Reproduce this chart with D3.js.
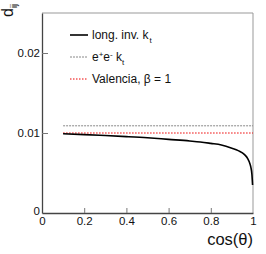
<!DOCTYPE html>
<html>
<head>
<meta charset="utf-8">
<script src="https://cdn.jsdelivr.net/npm/d3@7"></script>
<style>
  body { margin: 0; background: #fff; }
  svg { display: block; font-family: "Liberation Sans", Arial, sans-serif; }
</style>
</head>
<body>
<div id="chart"></div>
<script>
// values
const cosTheta = [0.1, 0.2, 0.3, 0.4, 0.5, 0.6, 0.7, 0.75, 0.8, 0.85, 0.9, 0.93, 0.96, 0.975, 0.985, 0.99, 0.995, 0.998];
const longInvKt = [0.0099, 0.0098, 0.00968, 0.00955, 0.0094, 0.0092, 0.009, 0.00888, 0.0087, 0.0085, 0.0081, 0.0078, 0.0073, 0.0068, 0.0062, 0.0057, 0.0048, 0.0035];
const flatX = [0.1, 1];
const eeKt = [0.0109, 0.0109];
const valencia = [0.01, 0.01];
const xTicks = [0, 0.2, 0.4, 0.6, 0.8, 1];
const yTicks = [0, 0.01, 0.02];

const width = 266, height = 254;
const margin = {left: 42, right: 13, top: 13, bottom: 41};

const svg = d3.select("#chart").append("svg")
    .attr("width", width)
    .attr("height", height);

const x = d3.scaleLinear().domain([0, 1]).range([margin.left, width - margin.right]);
const y = d3.scaleLinear().domain([0, 0.025]).range([height - margin.bottom, margin.top]);

// frame (top and right are light)
svg.append("line")
    .attr("x1", x(0)).attr("x2", x(1)).attr("y1", y(0.025)).attr("y2", y(0.025))
    .attr("stroke", "#999").attr("stroke-width", 1);
svg.append("line")
    .attr("x1", x(1)).attr("x2", x(1)).attr("y1", y(0)).attr("y2", y(0.025))
    .attr("stroke", "#999").attr("stroke-width", 1);

// axes, ticks pointing inward
const xAxis = svg.append("g")
    .attr("transform", `translate(0,${y(0)})`)
    .call(d3.axisBottom(x).tickValues(xTicks).tickSizeInner(-5).tickSizeOuter(0).tickPadding(4)
        .tickFormat(d3.format("~g")));
const yAxis = svg.append("g")
    .attr("transform", `translate(${x(0)},0)`)
    .call(d3.axisLeft(y).tickValues(yTicks).tickSizeInner(-6).tickSizeOuter(0).tickPadding(2)
        .tickFormat(d => d === 0 ? "0" : d3.format(".2f")(d)));

[xAxis, yAxis].forEach(g => {
    g.select(".domain").attr("stroke", "#444").attr("stroke-width", 1.3);
    g.selectAll(".tick line").attr("stroke", "#777");
    g.selectAll(".tick text").attr("fill", "#111").style("font-size", "11.5px")
        .style("font-family", "Liberation Sans, Arial, sans-serif");
});
xAxis.selectAll(".tick").filter(d => d === 0 || d === 1).select("line").remove();
yAxis.selectAll(".tick").filter(d => d === 0).select("line").remove();
yAxis.selectAll(".tick").filter(d => d === 0).select("text").attr("dy", "0.1em");

// curves
const line = d3.line().x(d => x(d[0])).y(d => y(d[1]));

svg.append("path")
    .datum(flatX.map((v, i) => [v, eeKt[i]]))
    .attr("d", line)
    .attr("fill", "none").attr("stroke", "#888").attr("stroke-width", 1)
    .attr("stroke-dasharray", "2,1");

svg.append("path")
    .datum(flatX.map((v, i) => [v, valencia[i]]))
    .attr("d", line)
    .attr("fill", "none").attr("stroke", "#e00").attr("stroke-width", 1)
    .attr("stroke-dasharray", "1.5,1.5");

svg.append("path")
    .datum(cosTheta.map((v, i) => [v, longInvKt[i]]))
    .attr("d", d3.line().curve(d3.curveMonotoneX).x(d => x(d[0])).y(d => y(d[1])))
    .attr("fill", "none").attr("stroke", "#000").attr("stroke-width", 1.6);

// legend
const legend = [
    {label: "long. inv. k", sub: "t", color: "#000", dash: null, w: 1.6},
    {label: "e", sub: "t", color: "#888", dash: "2,1", w: 1, ee: true},
    {label: "Valencia, \u03b2 = 1", sub: null, color: "#e00", dash: "1.5,1.5", w: 1}
];
const lg = svg.append("g").style("font-size", "12px").attr("fill", "#111");
legend.forEach((d, i) => {
    const ly = 35 + i * 22;
    lg.append("line")
        .attr("x1", 70).attr("x2", 88).attr("y1", ly).attr("y2", ly)
        .attr("stroke", d.color).attr("stroke-width", d.w)
        .attr("stroke-dasharray", d.dash);
    const t = lg.append("text").attr("x", 92).attr("y", ly + 4);
    if (d.ee) {
        t.append("tspan").text("e");
        t.append("tspan").attr("dy", -4).style("font-size", "8px").text("+");
        t.append("tspan").attr("dy", 4).text("e");
        t.append("tspan").attr("dy", -4).style("font-size", "8px").text("-");
        t.append("tspan").attr("dy", 4).text(" k");
        t.append("tspan").attr("dy", 4).style("font-size", "8px").text("t");
    } else {
        t.append("tspan").text(d.label);
        if (d.sub) t.append("tspan").attr("dy", 4).attr("dx", 1).style("font-size", "8px").text(d.sub);
    }
});

// axis titles
svg.append("text")
    .attr("x", x(1)).attr("y", 245)
    .attr("text-anchor", "end")
    .style("font-size", "16.5px").attr("fill", "#111")
    .text("cos(\u03b8)");

const yt = svg.append("text")
    .attr("transform", "translate(13,17) rotate(-90)")
    .style("font-size", "16px").attr("fill", "#111");
yt.append("tspan").text("d");
yt.append("tspan").attr("dy", 4).style("font-size", "9px").text("ij");
</script>
</body>
</html>
